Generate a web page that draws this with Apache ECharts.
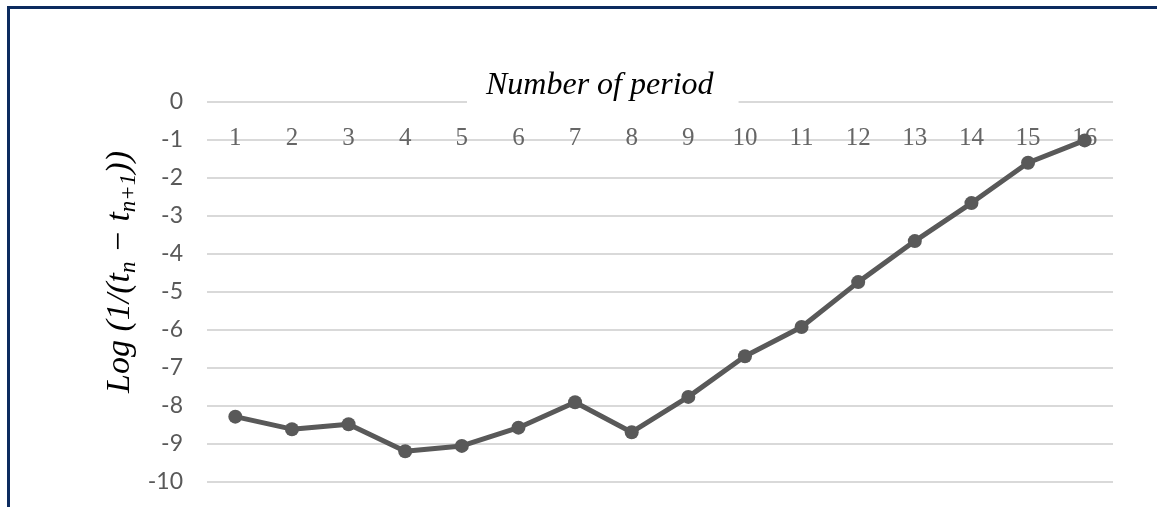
<!DOCTYPE html>
<html>
<head>
<meta charset="utf-8">
<script src="https://cdn.jsdelivr.net/npm/echarts@6/dist/echarts.min.js"></script>
<style>
html,body{margin:0;padding:0;background:#fff;}
#frame{position:absolute;left:0;top:0;width:1157px;height:507px;overflow:hidden;}
#border{position:absolute;left:7px;top:6px;width:1160px;height:520px;border-top:3px solid #0c2b5f;border-left:3px solid #0c2b5f;box-sizing:border-box;}
#chart{position:absolute;left:0;top:0;width:1157px;height:507px;}
</style>
</head>
<body>
<div id="frame">
<div id="chart"></div>
<div id="border"></div>
</div>
<script>
const categories = ['1','2','3','4','5','6','7','8','9','10','11','12','13','14','15','16'];
const values = [-8.28, -8.61, -8.48, -9.19, -9.05, -8.57, -7.90, -8.69, -7.76, -6.69, -5.92, -4.74, -3.66, -2.66, -1.60, -1.01];
const yTicks = { min: -10, max: 0, interval: 1 };
const titleText = 'Number of period';

const chart = echarts.init(document.getElementById('chart'));
chart.setOption({
  animation: false,
  backgroundColor: '#fff',
  title: {
    text: titleText,
    left: 467,
    top: 66,
    padding: [4, 25, 8, 19],
    backgroundColor: '#fff',
    textStyle: { fontFamily: 'Liberation Serif', fontStyle: 'italic', fontWeight: 'normal', fontSize: 32, color: '#000' }
  },
  grid: { left: 207, right: 44, top: 102, bottom: 25, containLabel: false },
  xAxis: {
    type: 'category',
    data: categories,
    position: 'top',
    offset: -36,
    boundaryGap: true,
    axisLine: { show: false },
    axisTick: { show: false },
    splitLine: { show: false },
    axisLabel: { margin: 0, verticalAlign: 'middle', fontFamily: 'Liberation Serif', fontSize: 25, color: '#666666', interval: 0 }
  },
  yAxis: {
    type: 'value',
    min: yTicks.min, max: yTicks.max, interval: yTicks.interval,
    axisLine: { show: false },
    axisTick: { show: false },
    splitLine: { lineStyle: { color: '#d9d9d9', width: 2 } },
    axisLabel: { margin: 24, fontFamily: 'Lato', fontSize: 23, color: '#595959' }
  },
  graphic: [{
    type: 'text',
    x: 120, y: 272,
    rotation: Math.PI / 2,
    style: {
      text: '{n|Log (1/(}{n|t}{s|n}{n| − }{n|t}{s|n+1}{n|))}',
      align: 'center', verticalAlign: 'middle',
      rich: {
        n: { fontFamily: 'Liberation Serif', fontStyle: 'italic', fontSize: 34, color: '#000', lineHeight: 40, verticalAlign: 'middle' },
        s: { fontFamily: 'Liberation Serif', fontStyle: 'italic', fontSize: 23, color: '#000', lineHeight: 40, verticalAlign: 'bottom', padding: [12, 0, 0, 0] }
      }
    }
  }],
  series: [{
    type: 'line',
    data: values,
    symbol: 'circle',
    symbolSize: 14,
    lineStyle: { color: '#595959', width: 5 },
    itemStyle: { color: '#595959' },
    z: 3
  }]
});
</script>
</body>
</html>
